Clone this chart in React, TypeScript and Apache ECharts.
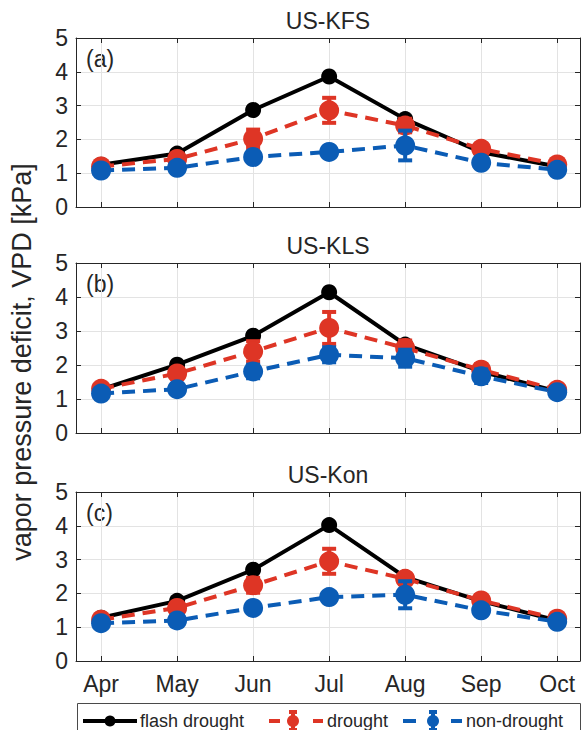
import React, { useEffect, useRef } from 'react';
import * as echarts from 'echarts';

const months = ['Apr', 'May', 'Jun', 'Jul', 'Aug', 'Sep', 'Oct'];
const monthIdx = [0, 1, 2, 3, 4, 5, 6];
const siteNames = ['US-KFS', 'US-KLS', 'US-Kon'];
const panelLabels = ['(a)', '(b)', '(c)'];
const legendNames = ['flash drought', 'drought', 'non-drought'];

// US-KFS
const kfsFlash = [1.25, 1.58, 2.87, 3.86, 2.6, 1.62, 1.2];
const kfsDrought = [1.2, 1.42, 2.02, 2.86, 2.41, 1.72, 1.26];
const kfsDroughtErr = [0.06, 0.1, 0.27, 0.37, 0.2, 0.15, 0.06];
const kfsNon = [1.08, 1.16, 1.48, 1.63, 1.82, 1.31, 1.1];
const kfsNonErr = [0.05, 0.08, 0.1, 0.1, 0.44, 0.12, 0.05];

// US-KLS
const klsFlash = [1.28, 2.01, 2.86, 4.14, 2.6, 1.81, 1.22];
const klsDrought = [1.3, 1.75, 2.4, 3.09, 2.5, 1.86, 1.27];
const klsDroughtErr = [0.06, 0.12, 0.3, 0.47, 0.22, 0.16, 0.05];
const klsNon = [1.16, 1.29, 1.81, 2.3, 2.2, 1.67, 1.2];
const klsNonErr = [0.05, 0.08, 0.2, 0.22, 0.25, 0.2, 0.05];

// US-Kon
const konFlash = [1.28, 1.78, 2.7, 4.02, 2.48, 1.77, 1.2];
const konDrought = [1.22, 1.57, 2.24, 2.95, 2.43, 1.79, 1.25];
const konDroughtErr = [0.06, 0.1, 0.22, 0.37, 0.15, 0.15, 0.05];
const konNon = [1.12, 1.2, 1.57, 1.89, 1.96, 1.5, 1.16];
const konNonErr = [0.05, 0.07, 0.1, 0.15, 0.4, 0.15, 0.05];

const flashSets = [kfsFlash, klsFlash, konFlash];
const droughtSets = [kfsDrought, klsDrought, konDrought];
const droughtErrSets = [kfsDroughtErr, klsDroughtErr, konDroughtErr];
const nonSets = [kfsNon, klsNon, konNon];
const nonErrSets = [kfsNonErr, klsNonErr, konNonErr];

const BLACK = '#000000';
const RED = '#DE3525';
const BLUE = '#0B5CB5';
const AXIS = '#262626';
const GRID = '#E3E3E3';
const FONT = '"Liberation Sans", Arial, Helvetica, sans-serif';

const gridTops = [38, 263, 492];
const gridH = [169, 170, 169];
const gridLeft = 76;
const gridRight = 1;
const xMin = -0.33;
const xMax = 6.3;

function errSeries(g: number, vals: number[], errs: number[], color: string, z: number) {
  return {
    type: 'custom',
    xAxisIndex: g * 2,
    yAxisIndex: g * 2,
    z,
    silent: true,
    data: monthIdx.map((i) => [i, vals[i] - errs[i], vals[i] + errs[i]]),
    encode: { x: 0, y: [1, 2] },
    renderItem: (params: any, api: any) => {
      const x = api.value(0);
      const lo = api.coord([x, api.value(1)]);
      const hi = api.coord([x, api.value(2)]);
      const hw = 7;
      const style = { stroke: color, lineWidth: 4 };
      return {
        type: 'group',
        children: [
          { type: 'line', shape: { x1: lo[0], y1: lo[1], x2: hi[0], y2: hi[1] }, style },
          { type: 'line', shape: { x1: hi[0] - hw, y1: hi[1], x2: hi[0] + hw, y2: hi[1] }, style },
          { type: 'line', shape: { x1: lo[0] - hw, y1: lo[1], x2: lo[0] + hw, y2: lo[1] }, style },
        ],
      };
    },
  };
}

function lineSeries(g: number, name: string, vals: number[], color: string, dashed: boolean, size: number, z: number) {
  return {
    type: 'line',
    name,
    xAxisIndex: g * 2,
    yAxisIndex: g * 2,
    z,
    silent: true,
    data: monthIdx.map((i) => [i, vals[i]]),
    symbol: 'circle',
    symbolSize: size,
    showSymbol: true,
    itemStyle: { color },
    lineStyle: { color, width: 4, type: dashed ? [13, 8] : 'solid' },
  };
}

export default function App() {
  const ref = useRef<HTMLDivElement>(null);
  useEffect(() => {
    if (!ref.current) return;
    const chart = echarts.init(ref.current, undefined, { renderer: 'svg' });
    const grids: any[] = [];
    const xAxes: any[] = [];
    const yAxes: any[] = [];
    const series: any[] = [];
    const graphics: any[] = [];
    for (let g = 0; g < 3; g++) {
      grids.push({ left: gridLeft, right: gridRight, top: gridTops[g], height: gridH[g], containLabel: false });
      xAxes.push({
        type: 'value',
        gridIndex: g,
        min: xMin,
        max: xMax,
        axisLine: { show: true, onZero: false, lineStyle: { color: AXIS, width: 1 } },
        axisTick: { show: true, inside: true, length: 5, customValues: monthIdx, lineStyle: { color: AXIS } },
        axisLabel: {
          show: g === 2,
          customValues: monthIdx,
          formatter: (v: number) => months[Math.round(v)] ?? '',
          fontSize: 23,
          fontFamily: FONT,
          color: AXIS,
          margin: 11,
        },
        splitLine: { show: true, lineStyle: { color: GRID, width: 1 } },
      });
      xAxes.push({
        type: 'value',
        gridIndex: g,
        position: 'top',
        min: xMin,
        max: xMax,
        axisLine: { show: true, onZero: false, lineStyle: { color: AXIS, width: 1 } },
        axisTick: { show: true, inside: true, length: 5, customValues: monthIdx, lineStyle: { color: AXIS } },
        axisLabel: { show: false },
        splitLine: { show: false },
      });
      yAxes.push({
        type: 'value',
        gridIndex: g,
        min: 0,
        max: 5,
        interval: 1,
        axisLine: { show: true, onZero: false, lineStyle: { color: AXIS, width: 1 } },
        axisTick: { show: true, inside: true, length: 5, lineStyle: { color: AXIS } },
        axisLabel: { fontSize: 23, fontFamily: FONT, color: AXIS, margin: 8 },
        splitLine: { show: true, lineStyle: { color: GRID, width: 1 } },
      });
      yAxes.push({
        type: 'value',
        gridIndex: g,
        position: 'right',
        min: 0,
        max: 5,
        interval: 1,
        axisLine: { show: true, onZero: false, lineStyle: { color: AXIS, width: 1 } },
        axisTick: { show: true, inside: true, length: 5, lineStyle: { color: AXIS } },
        axisLabel: { show: false },
        splitLine: { show: false },
      });
      series.push(lineSeries(g, legendNames[0], flashSets[g], BLACK, false, 16, 2));
      series.push(errSeries(g, droughtSets[g], droughtErrSets[g], RED, 3));
      series.push(lineSeries(g, legendNames[1], droughtSets[g], RED, true, 20, 4));
      series.push(errSeries(g, nonSets[g], nonErrSets[g], BLUE, 5));
      series.push(lineSeries(g, legendNames[2], nonSets[g], BLUE, true, 20, 6));

      const cx = gridLeft + (581 - gridLeft - gridRight) / 2;
      graphics.push({
        type: 'text',
        x: cx,
        y: gridTops[g] - 17,
        style: { text: siteNames[g], fontSize: 23, fontFamily: FONT, fill: AXIS, align: 'center', verticalAlign: 'middle' },
      });
      graphics.push({
        type: 'text',
        x: 86,
        y: gridTops[g] + 21,
        style: { text: panelLabels[g], fontSize: 23, fontFamily: FONT, fill: AXIS, align: 'left', verticalAlign: 'middle' },
      });
    }

    // y axis name
    graphics.push({
      type: 'text',
      x: 22,
      y: 362,
      rotation: Math.PI / 2,
      style: {
        text: 'vapor pressure deficit, VPD [kPa]',
        fontSize: 27,
        fontFamily: FONT,
        fill: AXIS,
        align: 'center',
        verticalAlign: 'middle',
      },
    });

    // legend
    const ly = 721;
    const lg: any[] = [];
    lg.push({ type: 'rect', shape: { x: 77.5, y: 703.5, width: 503, height: 40 }, style: { fill: '#fff', stroke: '#4a4a4a', lineWidth: 1 } });
    lg.push({ type: 'line', shape: { x1: 83, y1: ly, x2: 137, y2: ly }, style: { stroke: BLACK, lineWidth: 4 } });
    lg.push({ type: 'circle', shape: { cx: 110, cy: ly, r: 5.5 }, style: { fill: BLACK } });
    lg.push({ type: 'text', x: 140, y: ly, style: { text: legendNames[0], fontSize: 18, fontFamily: FONT, fill: AXIS, align: 'left', verticalAlign: 'middle' } });
    const errIcon = (x: number, c: string, d1: number[], d2: number[]) => {
      lg.push({ type: 'line', shape: { x1: d1[0], y1: ly, x2: d1[1], y2: ly }, style: { stroke: c, lineWidth: 4 } });
      lg.push({ type: 'line', shape: { x1: d2[0], y1: ly, x2: d2[1], y2: ly }, style: { stroke: c, lineWidth: 4 } });
      lg.push({ type: 'line', shape: { x1: x, y1: ly - 9, x2: x, y2: ly + 9 }, style: { stroke: c, lineWidth: 4 } });
      lg.push({ type: 'line', shape: { x1: x - 4, y1: ly - 9, x2: x + 4, y2: ly - 9 }, style: { stroke: c, lineWidth: 4 } });
      lg.push({ type: 'line', shape: { x1: x - 4, y1: ly + 9, x2: x + 4, y2: ly + 9 }, style: { stroke: c, lineWidth: 4 } });
      lg.push({ type: 'circle', shape: { cx: x, cy: ly, r: 6 }, style: { fill: c } });
    };
    errIcon(293, RED, [269, 280], [313, 323]);
    lg.push({ type: 'text', x: 327, y: ly, style: { text: legendNames[1], fontSize: 18, fontFamily: FONT, fill: AXIS, align: 'left', verticalAlign: 'middle' } });
    errIcon(433, BLUE, [403, 416], [451, 462]);
    lg.push({ type: 'text', x: 466, y: ly, style: { text: legendNames[2], fontSize: 18, fontFamily: FONT, fill: AXIS, align: 'left', verticalAlign: 'middle' } });
    graphics.push({ type: 'group', children: lg });

    chart.setOption({
      animation: false,
      backgroundColor: '#ffffff',
      grid: grids,
      xAxis: xAxes,
      yAxis: yAxes,
      series,
      graphic: graphics,
    });
    return () => chart.dispose();
  }, []);
  return <div ref={ref} style={{ position: 'fixed', left: 0, top: 0, width: 581, height: 730 }} />;
}
